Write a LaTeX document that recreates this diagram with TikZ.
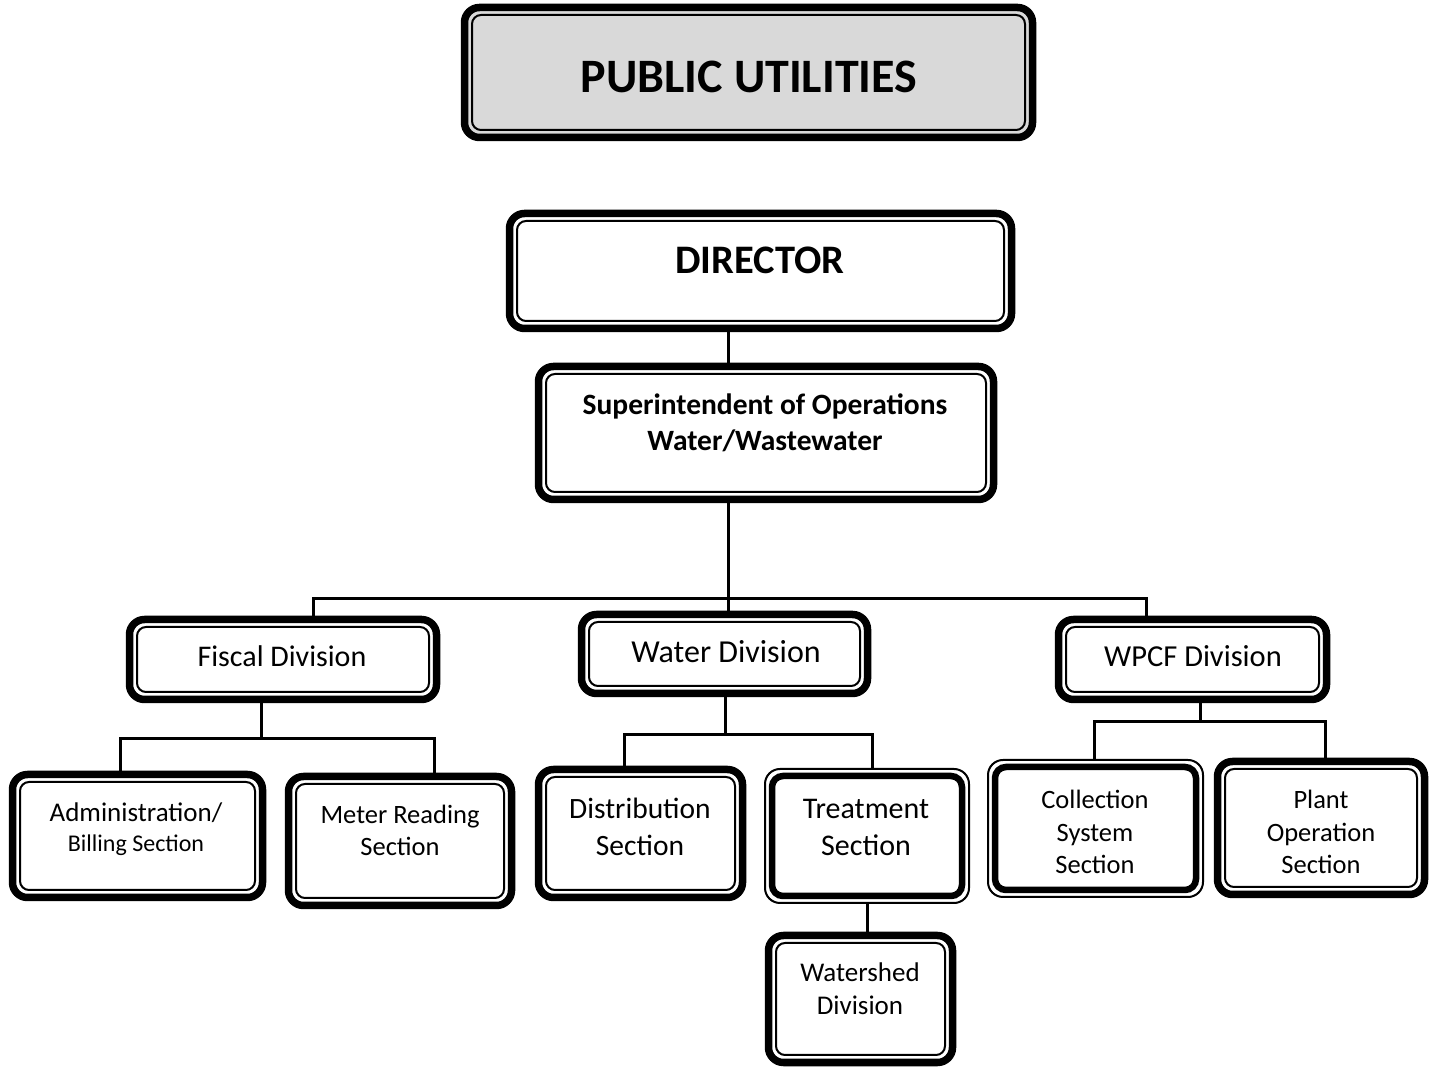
\documentclass[tikz,border=0pt]{standalone}
\usepackage{fontspec}
\setmainfont{Carlito}
\usetikzlibrary{calc}
\definecolor{boxgray}{HTML}{D9D9D9}
\newcommand{\fsz}[2]{\fontsize{#1}{#2}\selectfont}
\tikzset{
  % thick outer rule, thin inner rule
  thickthin/.style={draw, line width=7.5pt, rounded corners=15pt, inner sep=0pt,
    path picture={\draw[line width=2pt, rounded corners=9pt]
      ([shift={(7.5pt,7.5pt)}]path picture bounding box.south west) rectangle
      ([shift={(-7.5pt,-7.5pt)}]path picture bounding box.north east);}},
  % thin outer rule, thick inner rule
  thinthick/.style={draw, line width=2pt, rounded corners=15pt, inner sep=0pt,
    path picture={\draw[line width=6.5pt, rounded corners=11pt]
      ([shift={(7pt,7pt)}]path picture bounding box.south west) rectangle
      ([shift={(-7pt,-7pt)}]path picture bounding box.north east);}},
  boxsize/.style 2 args={minimum width=#1, minimum height=#2},
  txt/.style={align=center, inner sep=0pt},
  link/.style={line width=3pt, line cap=rect},
}
\begin{document}
\begin{tikzpicture}[x=1pt, y=1pt]
\useasboundingbox (0,0) rectangle (1432,1068);

% ---- boxes ----
\node[thickthin, fill=boxgray, boxsize={568pt}{130pt}] (pu) at (748.5,995.5) {};
\node[txt, font=\fsz{48}{52}\bfseries] (put) at (749,991) {PUBLIC UTILITIES};

\node[thickthin, boxsize={502pt}{115pt}] (dir) at (760.5,797) {};
\node[txt, font=\fsz{40.5}{46}\bfseries] (dirt) at (760,808) {DIRECTOR};

\node[thickthin, boxsize={455pt}{133pt}] (sup) at (766,635) {};
\node[txt, font=\fsz{29.5}{36}\bfseries] (supt) at (765,645) {Superintendent of Operations\\Water/Wastewater};

\node[thickthin, boxsize={307pt}{80pt}] (fis) at (283,408.5) {};
\node[txt, font=\fsz{30}{36}] (fist) at (282,411.5) {Fiscal Division};

\node[thickthin, boxsize={286pt}{79pt}] (wat) at (724.5,414) {};
\node[txt, font=\fsz{32}{38}] (watt) at (726,416) {Water Division};

\node[thickthin, boxsize={268pt}{80pt}] (wpcf) at (1192.5,408.5) {};
\node[txt, font=\fsz{30.5}{36}] (wpcft) at (1193,411.5) {WPCF Division};

\node[thickthin, boxsize={250pt}{123pt}] (adm) at (137.5,232) {};
\node[txt, font=\fsz{27}{30}] (admt) at (136,239) {Administration/\\\fsz{24}{30}Billing Section};

\node[thickthin, boxsize={223pt}{129pt}] (met) at (400,227) {};
\node[txt, font=\fsz{26.5}{32}] (mett) at (400,238) {Meter Reading\\Section};

\node[thickthin, boxsize={204pt}{128pt}] (dis) at (640.5,234.5) {};
\node[txt, font=\fsz{29.5}{37}] (dist) at (640,241.5) {Distribution\\Section};

\node[thinthick, boxsize={204pt}{134pt}] (tre) at (867,232) {};
\node[txt, font=\fsz{30}{37}] (tret) at (866,240.5) {Treatment\\Section};

\node[thickthin, boxsize={184pt}{127pt}] (wsh) at (860.5,69) {};
\node[txt, font=\fsz{27}{33}] (wsht) at (860,79.5) {Watershed\\Division};

\node[thinthick, boxsize={215pt}{137pt}] (col) at (1095.5,239.5) {};
\node[txt, font=\fsz{26.5}{32.5}] (colt) at (1095,236) {Collection\\System\\Section};

\node[thickthin, boxsize={207pt}{133pt}] (pla) at (1321,240) {};
\node[txt, font=\fsz{26.5}{32.5}] (plat) at (1321,236) {Plant\\Operation\\Section};

% ---- connector routing points ----
\coordinate (trunk) at (728,0);
\coordinate (busL) at (313,469);
\coordinate (busR) at (1146,469);
\coordinate (fisdrop) at (261,329);
\coordinate (fisL) at (120,329);
\coordinate (fisR) at (434,329);
\coordinate (watdrop) at (725,333);
\coordinate (watL) at (624,333);
\coordinate (watR) at (872,333);
\coordinate (tredrop) at (867,0);
\coordinate (wpcfdrop) at (1200,346);
\coordinate (wpcfL) at (1094,346);
\coordinate (wpcfR) at (1325,346);

% ---- connectors ----
\draw[link] (dir.south -| trunk) -- (sup.north -| trunk);
\draw[link] (sup.south -| trunk) -- (wat.north -| trunk);
\draw[link] (fis.north -| busL) -- (busL) -- (busR) -- (wpcf.north -| busR);

\draw[link] (fis.south -| fisdrop) -- (fisdrop);
\draw[link] (adm.north -| fisL) -- (fisL) -- (fisR) -- (met.north -| fisR);

\draw[link] (wat.south -| watdrop) -- (watdrop);
\draw[link] (dis.north -| watL) -- (watL) -- (watR) -- (tre.north -| watR);
\draw[link] (tre.south -| tredrop) -- (wsh.north -| tredrop);

\draw[link] (wpcf.south -| wpcfdrop) -- (wpcfdrop);
\draw[link] (col.north -| wpcfL) -- (wpcfL) -- (wpcfR) -- (pla.north -| wpcfR);
\end{tikzpicture}
\end{document}
